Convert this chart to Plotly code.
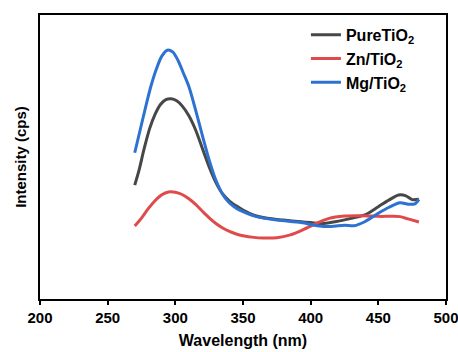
import plotly.graph_objects as go

pure_x = [270, 273, 277, 281, 285, 289, 293, 297, 301, 305, 310, 315, 320, 325, 330, 335, 340, 345, 350, 358, 368, 380, 393, 400, 408, 418, 430, 440, 450, 458, 465, 470, 475, 480]
pure_y = [40.1, 45.0, 53.0, 60.0, 65.0, 68.5, 70.2, 70.5, 69.8, 68.0, 64.5, 59.5, 53.0, 46.5, 41.0, 37.0, 34.5, 32.8, 31.3, 29.5, 28.4, 27.8, 27.2, 26.9, 26.5, 27.2, 28.4, 29.6, 32.5, 34.9, 36.6, 36.4, 35.0, 35.1]

zn_x = [270, 275, 280, 285, 290, 295, 300, 305, 310, 315, 320, 325, 330, 335, 340, 345, 350, 358, 365, 375, 385, 393, 403, 413, 425, 438, 450, 460, 466, 472, 480]
zn_y = [25.7, 28.5, 31.8, 34.6, 36.7, 37.7, 37.6, 36.8, 35.3, 33.3, 30.9, 28.6, 26.6, 25.0, 23.8, 22.9, 22.3, 21.7, 21.5, 21.6, 22.6, 24.1, 26.4, 28.3, 29.2, 29.3, 29.1, 29.1, 29.0, 28.2, 27.1]

mg_x = [270, 274, 278, 282, 286, 290, 294, 298, 302, 306, 310, 315, 320, 325, 330, 335, 340, 345, 350, 360, 375, 393, 405, 415, 425, 432, 440, 450, 458, 466, 472, 477, 480]
mg_y = [51.5, 59.5, 67.5, 75.0, 81.0, 85.5, 87.6, 87.0, 84.0, 79.5, 74.8, 66.5, 57.5, 48.9, 41.8, 36.8, 33.8, 32.0, 30.8, 29.0, 27.8, 26.9, 25.8, 25.5, 26.0, 25.8, 27.2, 30.2, 32.3, 33.9, 33.4, 33.5, 35.1]

x_ticks = [200, 250, 300, 350, 400, 450, 500]

font = "Liberation Sans, Arial, sans-serif"

fig = go.Figure()
fig.add_trace(go.Scatter(x=pure_x, y=pure_y, mode="lines", name="<b>PureTiO<sub>2</sub></b>",
                         line=dict(color="#474747", width=3, shape="spline", smoothing=0.8)))
fig.add_trace(go.Scatter(x=zn_x, y=zn_y, mode="lines", name="<b>Zn/TiO<sub>2</sub></b>",
                         line=dict(color="#e04a4a", width=3, shape="spline", smoothing=0.8)))
fig.add_trace(go.Scatter(x=mg_x, y=mg_y, mode="lines", name="<b>Mg/TiO<sub>2</sub></b>",
                         line=dict(color="#2d72d2", width=3, shape="spline", smoothing=0.8)))

fig.update_layout(
    width=458, height=352,
    margin=dict(l=40, r=12, t=15, b=53),
    paper_bgcolor="white", plot_bgcolor="white",
    font=dict(family=font, size=15, color="black"),
    showlegend=True,
    legend=dict(x=0.655, y=0.99, xanchor="left", yanchor="top",
                bgcolor="rgba(0,0,0,0)", font=dict(size=16, family=font, color="black"),
                tracegroupgap=0, itemwidth=30),
    xaxis=dict(range=[200, 500], tickvals=x_ticks, ticktext=[f"<b>{t}</b>" for t in x_ticks],
               showgrid=False, zeroline=False, showline=True, linecolor="black", linewidth=2,
               mirror=True, ticks="outside", ticklen=4, tickwidth=1.5, tickcolor="black",
               tickfont=dict(size=15, family=font), automargin=False, ticklabeloverflow="allow",
               title=dict(text="<b>Wavelength (nm)</b>", font=dict(size=16, family=font), standoff=10)),
    yaxis=dict(range=[0, 100], showticklabels=False, showgrid=False, zeroline=False,
               showline=True, linecolor="black", linewidth=2, mirror=True, ticks="",
               automargin=False,
               title=dict(text="<b>Intensity (cps)</b>", font=dict(size=15, family=font), standoff=8)),
)

fig.write_html("out.html")
